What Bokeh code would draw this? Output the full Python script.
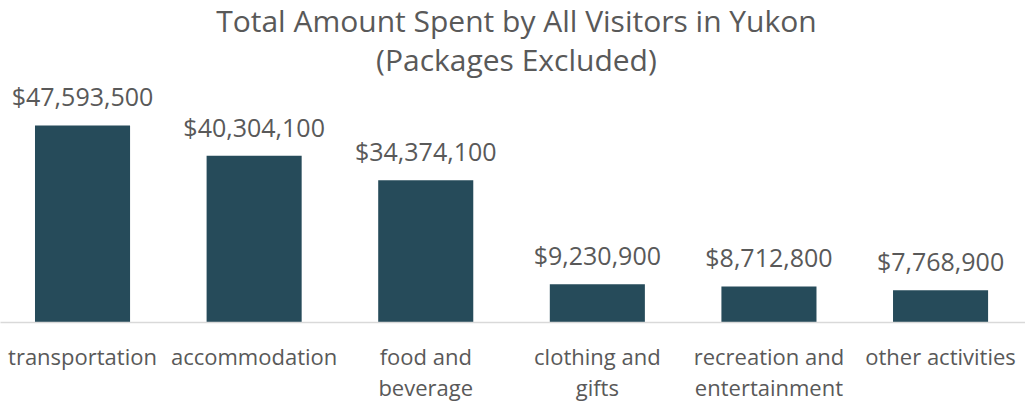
from bokeh.plotting import figure
from bokeh.models import ColumnDataSource, Range1d, FixedTicker, Label
from bokeh.core.properties import value
from bokeh.embed import file_html
from bokeh.resources import INLINE

title_lines = ["Total Amount Spent by All Visitors in Yukon", "(Packages Excluded)"]
categories = ["transportation", "accommodation", "food and\nbeverage",
              "clothing and\ngifts", "recreation and\nentertainment", "other activities"]
amounts = [47593500, 40304100, 34374100, 9230900, 8712800, 7768900]
labels = ["${:,}".format(v) for v in amounts]

FONT = "Open Sans"
TXT = "#595959"
BAR = "#264b5a"

xs = list(range(len(categories)))
src = ColumnDataSource(dict(x=xs, top=amounts, label=labels))

frame_h = 322
px_per_unit = 4.14e-6
y_end = frame_h / px_per_unit
x0, x1 = -0.478, 5.495
p = figure(frame_width=1025, frame_height=frame_h, output_backend="svg", toolbar_location=None,
           x_range=Range1d(x0, x1), y_range=Range1d(0, y_end),
           y_axis_location=None, min_border_left=0, min_border_right=0,
           min_border_top=0, min_border_bottom=0, outline_line_color=None)

# title lines placed at fixed pixel distances from the frame top
for line, dy in zip(title_lines, [20, 59]):
    p.add_layout(Label(x=(x0 + x1) / 2 + 0.02, y=(frame_h - dy) / px_per_unit, text=line,
                       text_align="center", text_baseline="middle", text_font=FONT,
                       text_font_size="30px", text_color=TXT))

p.vbar(x="x", top="top", bottom=0, width=0.554, source=src, color=BAR, line_color=None)
p.text(x="x", y="top", text="label", source=src, text_align="center", text_baseline="bottom",
       y_offset=-12, text_font=value(FONT), text_font_size="25px", text_color=TXT)

p.xgrid.visible = False
p.ygrid.visible = False
ax = p.xaxis[0]
ax.ticker = FixedTicker(ticks=xs)
ax.major_label_overrides = {i: c for i, c in zip(xs, categories)}
ax.major_label_text_font = FONT
ax.major_label_text_font_size = "22px"
ax.major_label_text_color = TXT
ax.major_label_text_line_height = 1.05
ax.major_label_standoff = 12
ax.major_tick_line_color = None
ax.minor_tick_line_color = None
ax.axis_line_color = "#d9d9d9"
ax.axis_line_width = 1.5

open("out.html", "w").write(file_html(p, INLINE))
